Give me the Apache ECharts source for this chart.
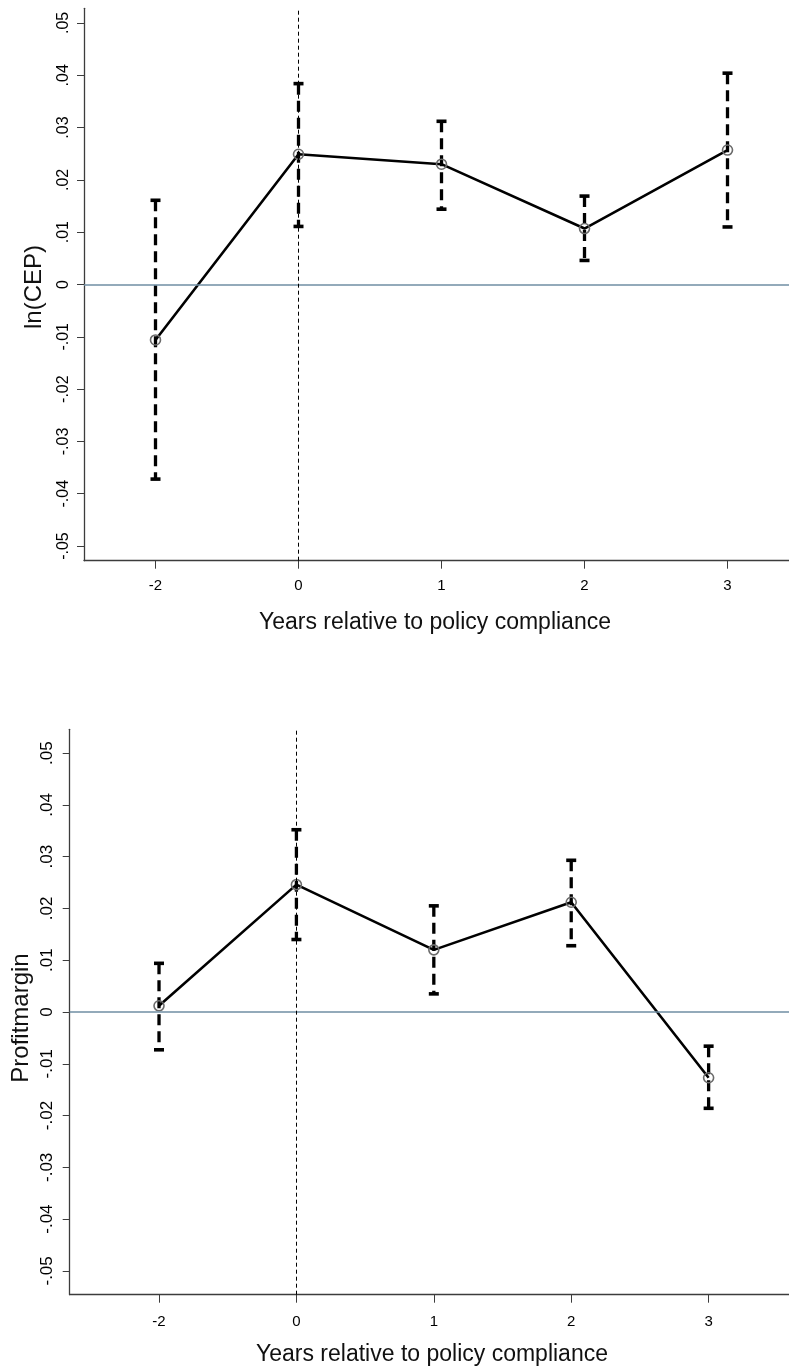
<!DOCTYPE html>
<html>
<head>
<meta charset="utf-8">
<script src="https://cdn.jsdelivr.net/npm/echarts@6/dist/echarts.min.js"></script>
<style>
html,body{margin:0;padding:0;background:#fff;}
#chart{width:789px;height:1371px;}
</style>
</head>
<body>
<div id="chart"></div>
<script>
// ---- data ----
const xLabels = ['-2', '0', '1', '2', '3'];
const yTicks = [-0.05, -0.04, -0.03, -0.02, -0.01, 0, 0.01, 0.02, 0.03, 0.04, 0.05];

const cepEst  = [-0.0106, 0.0249, 0.0230, 0.0107, 0.0257];
const cepLow  = [-0.0372, 0.0111, 0.0144, 0.0046, 0.0110];
const cepHigh = [ 0.0161, 0.0384, 0.0312, 0.0169, 0.0404];

const pmEst  = [ 0.0012, 0.0246, 0.0120, 0.0212, -0.0127];
const pmLow  = [-0.0073, 0.0140, 0.0035, 0.0128, -0.0186];
const pmHigh = [ 0.0094, 0.0352, 0.0205, 0.0293, -0.0066];

const yTitles = ['ln(CEP)', 'Profitmargin'];
const xTitle = 'Years relative to policy compliance';

// ---- build ----
const FONT = '"Liberation Sans", Arial, Helvetica, sans-serif';
const idx = xLabels.map((_, i) => i);

function fmtY(v) {
  if (Math.abs(v) < 1e-9) return '0';
  return (v < 0 ? '-' : '') + Math.abs(v).toFixed(2).replace(/^0/, '');
}

function xAxisCfg(g, min, max, fs, margin) {
  return {
    gridIndex: g, type: 'value', min: min, max: max,
    axisLine: { show: true, onZero: false, lineStyle: { color: '#3c3c3c', width: 1.3 } },
    axisTick: { show: true, customValues: idx, length: 8, lineStyle: { color: '#3c3c3c', width: 1 } },
    axisLabel: { customValues: idx, formatter: v => xLabels[Math.round(v)], fontSize: fs, fontFamily: FONT, color: '#000', margin: margin },
    splitLine: { show: false }
  };
}
function yAxisCfg(g, lim, fs, margin) {
  return {
    gridIndex: g, type: 'value', min: -lim, max: lim,
    axisLine: { show: true, onZero: false, lineStyle: { color: '#3c3c3c', width: 1.3 } },
    axisTick: { show: true, customValues: yTicks, length: 7, lineStyle: { color: '#3c3c3c', width: 1 } },
    axisLabel: { customValues: yTicks, rotate: 90, formatter: fmtY, fontSize: fs, fontFamily: FONT, color: '#000', margin: margin },
    splitLine: { show: false }
  };
}

function errRender(params, api) {
  const x = api.value(0), lo = api.value(1), hi = api.value(2);
  const p1 = api.coord([x, hi]);
  const p2 = api.coord([x, lo]);
  const cw = 5;
  return {
    type: 'group',
    children: [
      { type: 'line', shape: { x1: p1[0], y1: p1[1], x2: p2[0], y2: p2[1] },
        style: { stroke: '#000', lineWidth: 3.3, lineDash: [11, 6] } },
      { type: 'line', shape: { x1: p1[0] - cw, y1: p1[1], x2: p1[0] + cw, y2: p1[1] },
        style: { stroke: '#000', lineWidth: 3.6 } },
      { type: 'line', shape: { x1: p2[0] - cw, y1: p2[1], x2: p2[0] + cw, y2: p2[1] },
        style: { stroke: '#000', lineWidth: 3.6 } }
    ]
  };
}

function panelSeries(g, est, low, high) {
  return [
    { type: 'line', xAxisIndex: g, yAxisIndex: g, data: [], z: 1, silent: true,
      markLine: { silent: true, symbol: ['none', 'none'], label: { show: false },
        data: [
          { yAxis: 0, lineStyle: { color: '#6f8ea3', width: 1.6, type: 'solid' } },
          { xAxis: 1, lineStyle: { color: '#000', width: 1, type: [4, 3] } }
        ] } },
    { type: 'custom', xAxisIndex: g, yAxisIndex: g, z: 2, renderItem: errRender,
      data: idx.map(i => [i, low[i], high[i]]) },
    { type: 'line', xAxisIndex: g, yAxisIndex: g, z: 3,
      data: idx.map(i => [i, est[i]]),
      lineStyle: { color: '#000', width: 2.6 },
      symbol: 'circle', symbolSize: 10,
      itemStyle: { color: 'rgba(255,255,255,0)', borderColor: '#6b6b6b', borderWidth: 1.6 } }
  ];
}

const chart = echarts.init(document.getElementById('chart'), null, { renderer: 'canvas' });
chart.setOption({
  animation: false,
  backgroundColor: '#fff',
  grid: [
    { left: 84, top: 8.3, right: 0, height: 552.4 },
    { left: 69.7, top: 729.3, right: 0, height: 565.4 }
  ],
  xAxis: [xAxisCfg(0, -0.5, 4.43, 15, 18), xAxisCfg(1, -0.65, 4.585, 15, 20)],
  yAxis: [yAxisCfg(0, 0.0528, 16, 12), yAxisCfg(1, 0.0546, 17, 14)],
  series: [].concat(panelSeries(0, cepEst, cepLow, cepHigh), panelSeries(1, pmEst, pmLow, pmHigh)),
  graphic: [
    { type: 'text', x: 435, y: 623, style: { text: xTitle, font: '23px ' + FONT, fill: '#111', textAlign: 'center', textVerticalAlign: 'middle' } },
    { type: 'text', x: 432, y: 1355, style: { text: xTitle, font: '23px ' + FONT, fill: '#111', textAlign: 'center', textVerticalAlign: 'middle' } },
    { type: 'text', x: 34, y: 287, rotation: Math.PI / 2, style: { text: yTitles[0], font: '24px ' + FONT, fill: '#111', textAlign: 'center', textVerticalAlign: 'middle' } },
    { type: 'text', x: 21, y: 1018, rotation: Math.PI / 2, style: { text: yTitles[1], font: '24px ' + FONT, fill: '#111', textAlign: 'center', textVerticalAlign: 'middle' } }
  ]
});
</script>
</body>
</html>
